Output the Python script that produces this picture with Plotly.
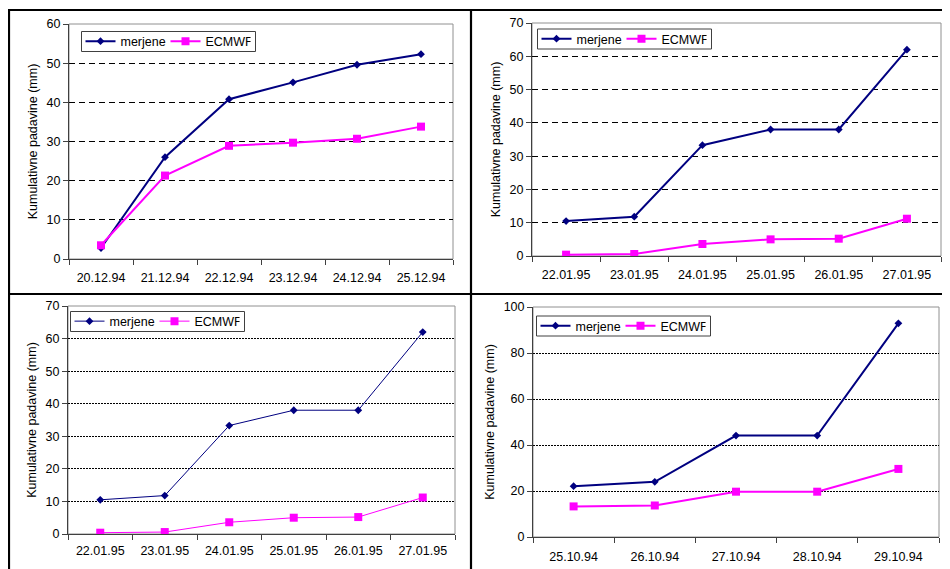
import plotly.graph_objects as go

# ---- data ----
dates_1 = ["20.12.94", "21.12.94", "22.12.94", "23.12.94", "24.12.94", "25.12.94"]
merjene_1 = [2.8, 26.0, 40.8, 45.1, 49.6, 52.3]
ecmwf_1 = [3.5, 21.3, 28.9, 29.7, 30.7, 33.8]

dates_2 = ["22.01.95", "23.01.95", "24.01.95", "25.01.95", "26.01.95", "27.01.95"]
merjene_2 = [10.5, 11.8, 33.3, 38.0, 38.0, 62.0]
ecmwf_2 = [0.4, 0.6, 3.6, 5.0, 5.2, 11.2]

dates_3 = ["22.01.95", "23.01.95", "24.01.95", "25.01.95", "26.01.95", "27.01.95"]
merjene_3 = [10.5, 11.8, 33.3, 38.0, 38.0, 62.0]
ecmwf_3 = [0.4, 0.6, 3.6, 5.0, 5.2, 11.2]

dates_4 = ["25.10.94", "26.10.94", "27.10.94", "28.10.94", "29.10.94"]
merjene_4 = [22.1, 24.0, 44.1, 44.1, 92.9]
ecmwf_4 = [13.3, 13.7, 19.7, 19.7, 29.6]

y_max = [60, 70, 70, 100]
y_step = [10, 10, 10, 20]
series_names = ["merjene", "ECMWF"]
y_title = "Kumulativne padavine (mm)"

# The page body has an 8px margin, so the figure is 8px smaller and
# page-pixel positions are shifted by 8px.
PAGE_W, PAGE_H, OFF = 950, 569, 8
W, H = PAGE_W - OFF, PAGE_H - OFF
NAVY = "#000080"
MAGENTA = "#FF00FF"
FONT = "Liberation Sans, Arial, sans-serif"

def px_x(v):
    return (v - OFF) / W

def px_y(v):
    return (PAGE_H - v) / H

# plot-area page-pixel boxes (left, right, top, bottom)
boxes = [(69, 453, 24, 259), (532, 941, 23, 256), (68, 455, 306, 534), (533, 939, 307, 537)]
line_w = [2, 2, 1, 2]
grid_dash = ["6px,4px", "6px,4px", "2px,1px", "2px,1px"]
x_label_standoff = [7, 7, 5, 8]
# legend centres (x, y) and box height
legend_centres = [(168.5, 41.5), (624.5, 39), (157.5, 321.5), (623.5, 326)]
LEG_ENTRY = 40
LEG_H = 20

panels = [
    (dates_1, merjene_1, ecmwf_1),
    (dates_2, merjene_2, ecmwf_2),
    (dates_3, merjene_3, ecmwf_3),
    (dates_4, merjene_4, ecmwf_4),
]

fig = go.Figure()
layout = dict(
    template="none",
    width=W, height=H,
    margin=dict(l=0, r=0, t=0, b=0, pad=0),
    paper_bgcolor="white", plot_bgcolor="white",
    font=dict(family=FONT, size=12, color="black"),
    showlegend=True,
)
shapes = []

for i, (cats, m, e) in enumerate(panels):
    n = i + 1
    xa = "x" if n == 1 else f"x{n}"
    ya = "y" if n == 1 else f"y{n}"
    lg = "legend" if n == 1 else f"legend{n}"
    fig.add_trace(go.Scatter(
        x=cats, y=m, name=series_names[0], xaxis=xa, yaxis=ya, legend=lg,
        mode="lines+markers",
        line=dict(color=NAVY, width=line_w[i]),
        marker=dict(symbol="diamond", size=6, color=NAVY),
    ))
    fig.add_trace(go.Scatter(
        x=cats, y=e, name=series_names[1], xaxis=xa, yaxis=ya, legend=lg,
        mode="lines+markers",
        line=dict(color=MAGENTA, width=line_w[i]),
        marker=dict(symbol="square", size=8, color=MAGENTA),
    ))
    l, r, t, b = boxes[i]
    xkey = "xaxis" if n == 1 else f"xaxis{n}"
    ykey = "yaxis" if n == 1 else f"yaxis{n}"
    layout[xkey] = dict(
        domain=[px_x(l), px_x(r)], anchor=ya, type="category",
        range=[-0.5, len(cats) - 0.5], automargin=False,
        tickson="boundaries", ticks="outside", ticklen=5, tickcolor="#404040",
        ticklabelstandoff=x_label_standoff[i],
        showline=True, linecolor="#404040", linewidth=1, mirror=False,
        showgrid=False, zeroline=False,
        tickfont=dict(size=12.5, family=FONT, color="black"),
    )
    layout[ykey] = dict(
        domain=[px_y(b), px_y(t)], anchor=xa, automargin=False,
        range=[0, y_max[i]], dtick=y_step[i], tick0=0,
        ticks="outside", ticklen=5, tickcolor="#404040",
        showline=True, linecolor="#404040", linewidth=1, mirror=False,
        showgrid=True, gridcolor="black", gridwidth=1, griddash=grid_dash[i],
        zeroline=False,
        tickfont=dict(size=12.5, family=FONT, color="black"),
        title=dict(text=y_title, font=dict(size=12.5, family=FONT, color="black"), standoff=6),
    )
    cx, cy = legend_centres[i]
    L = cx - 88
    layout[lg] = dict(
        x=px_x(L), y=px_y(cy), xanchor="left", yanchor="middle",
        orientation="h", bgcolor="rgba(0,0,0,0)", borderwidth=0,
        font=dict(size=12.5, family=FONT, color="black"), itemwidth=30,
        entrywidth=LEG_ENTRY, entrywidthmode="pixels",
        tracegroupgap=0, itemsizing="trace",
    )
    # legend frame
    shapes.append(dict(type="rect", xref="paper", yref="paper",
                       x0=px_x(L + 1), x1=px_x(L + 175),
                       y0=px_y(cy + LEG_H / 2), y1=px_y(cy - LEG_H / 2),
                       line=dict(color="#404040", width=1), fillcolor="white",
                       layer="above"))
    # plot area border
    shapes.append(dict(type="rect", xref=f"{xa} domain", yref=f"{ya} domain",
                       x0=0, x1=1, y0=0, y1=1, line=dict(color="#909090", width=1),
                       layer="below"))

# black outer frame and dividers (page pixels)
frame_lines = [
    (8, 10, 950, 10),
    (9, 10, 9, 569),
    (471, 10, 471, 569),
    (8, 294, 950, 294),
]
for x0, y0, x1, y1 in frame_lines:
    shapes.append(dict(type="line", xref="paper", yref="paper",
                       x0=px_x(x0), y0=px_y(y0), x1=px_x(x1), y1=px_y(y1),
                       line=dict(color="black", width=2.2)))

layout["shapes"] = shapes
fig.update_layout(**layout)
fig.write_html("out.html")
